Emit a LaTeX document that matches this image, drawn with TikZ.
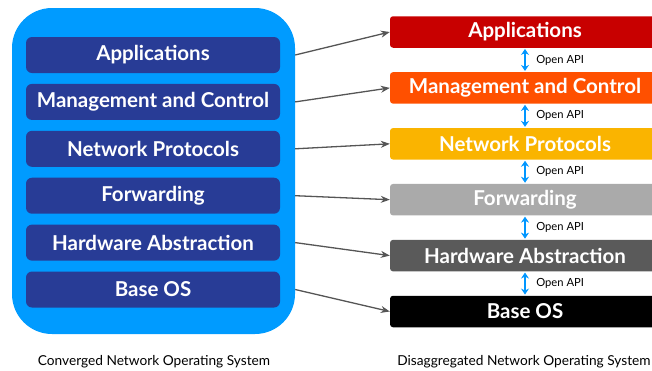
\documentclass[tikz,border=0pt]{standalone}
\usepackage{fontspec}
\setmainfont{Lato}
\usetikzlibrary{arrows.meta, positioning}
\definecolor{osBlue}{RGB}{0,155,255}
\definecolor{layerBlue}{RGB}{40,60,150}
\definecolor{appRed}{RGB}{200,0,0}
\definecolor{mgmtOrange}{RGB}{255,80,0}
\definecolor{protoYellow}{RGB}{250,180,0}
\definecolor{fwdGray}{RGB}{170,170,170}
\definecolor{hwGray}{RGB}{90,90,90}
\definecolor{linkGray}{RGB}{85,85,85}
\definecolor{apiBlue}{RGB}{0,150,255}

\begin{document}
\begin{tikzpicture}[
    x=1pt, y=-1pt,
    layer/.style={rectangle, fill=layerBlue, rounded corners=6pt, minimum width=254pt, minimum height=36pt, inner sep=0pt, text=white, font=\fontsize{20.5}{22}\selectfont\bfseries},
    part/.style={rectangle, rounded corners=3pt, minimum width=270pt, minimum height=31.5pt, inner sep=0pt, text=white, font=\fontsize{20.5}{22}\selectfont\bfseries},
    link/.style={-{Stealth[length=9pt, width=7pt]}, linkGray, line width=1.3pt},
    api/.style={{Stealth[length=6pt, width=8pt]}-{Stealth[length=6pt, width=8pt]}, apiBlue, line width=2pt, shorten <=1pt, shorten >=1pt},
    lbl/.style={font=\fontsize{11.2}{13}\selectfont, right=7pt, text=black},
    caption/.style={font=\fontsize{13.7}{16}\selectfont, text=black}
]
    \useasboundingbox (0,0) rectangle (652,370);

    % Converged side
    \node[rectangle, fill=osBlue, rounded corners=40pt, minimum width=283pt, minimum height=326pt] (converged) at (153.5,171) {};
    \node[layer] (cApp) at (153,55) {Applications};
    \node[layer, below=10.5pt of cApp] (cMgmt) {Management and Control};
    \node[layer, below=10.5pt of cMgmt] (cProto) {Network Protocols};
    \node[layer, below=10.5pt of cProto] (cFwd) {Forwarding};
    \node[layer, below=10.5pt of cFwd] (cHw) {Hardware Abstraction};
    \node[layer, below=10.5pt of cHw] (cBase) {Base OS};

    % Disaggregated side
    \node[part, fill=appRed] (dApp) at (525,32) {Applications};
    \node[part, fill=mgmtOrange, below=24pt of dApp] (dMgmt) {Management and Control};
    \node[part, fill=protoYellow, below=24pt of dMgmt] (dProto) {Network Protocols};
    \node[part, fill=fwdGray, below=24pt of dProto] (dFwd) {Forwarding};
    \node[part, fill=hwGray, below=24pt of dFwd] (dHw) {Hardware Abstraction};
    \node[part, fill=black, below=24pt of dHw] (dBase) {Base OS};

    % Captions
    \node[caption] (cCaption) at (154,362) {Converged Network Operating System};
    \node[caption] (dCaption) at (524,362) {Disaggregated Network Operating System};

    % Connections
    \draw[link] (converged.east |- cApp) -- (dApp.west);
    \draw[link] (converged.east |- cMgmt) -- (dMgmt.west);
    \draw[link] (converged.east |- cProto) -- (dProto.west);
    \draw[link] (converged.east |- cFwd) -- (dFwd.west);
    \draw[link] (converged.east |- cHw) -- (dHw.west);
    \draw[link] (converged.east |- cBase) -- (dBase.west);

    % Open APIs
    \draw[api] (dApp.south) -- node[lbl] {Open API} (dMgmt.north);
    \draw[api] (dMgmt.south) -- node[lbl] {Open API} (dProto.north);
    \draw[api] (dProto.south) -- node[lbl] {Open API} (dFwd.north);
    \draw[api] (dFwd.south) -- node[lbl] {Open API} (dHw.north);
    \draw[api] (dHw.south) -- node[lbl] {Open API} (dBase.north);
\end{tikzpicture}
\end{document}
